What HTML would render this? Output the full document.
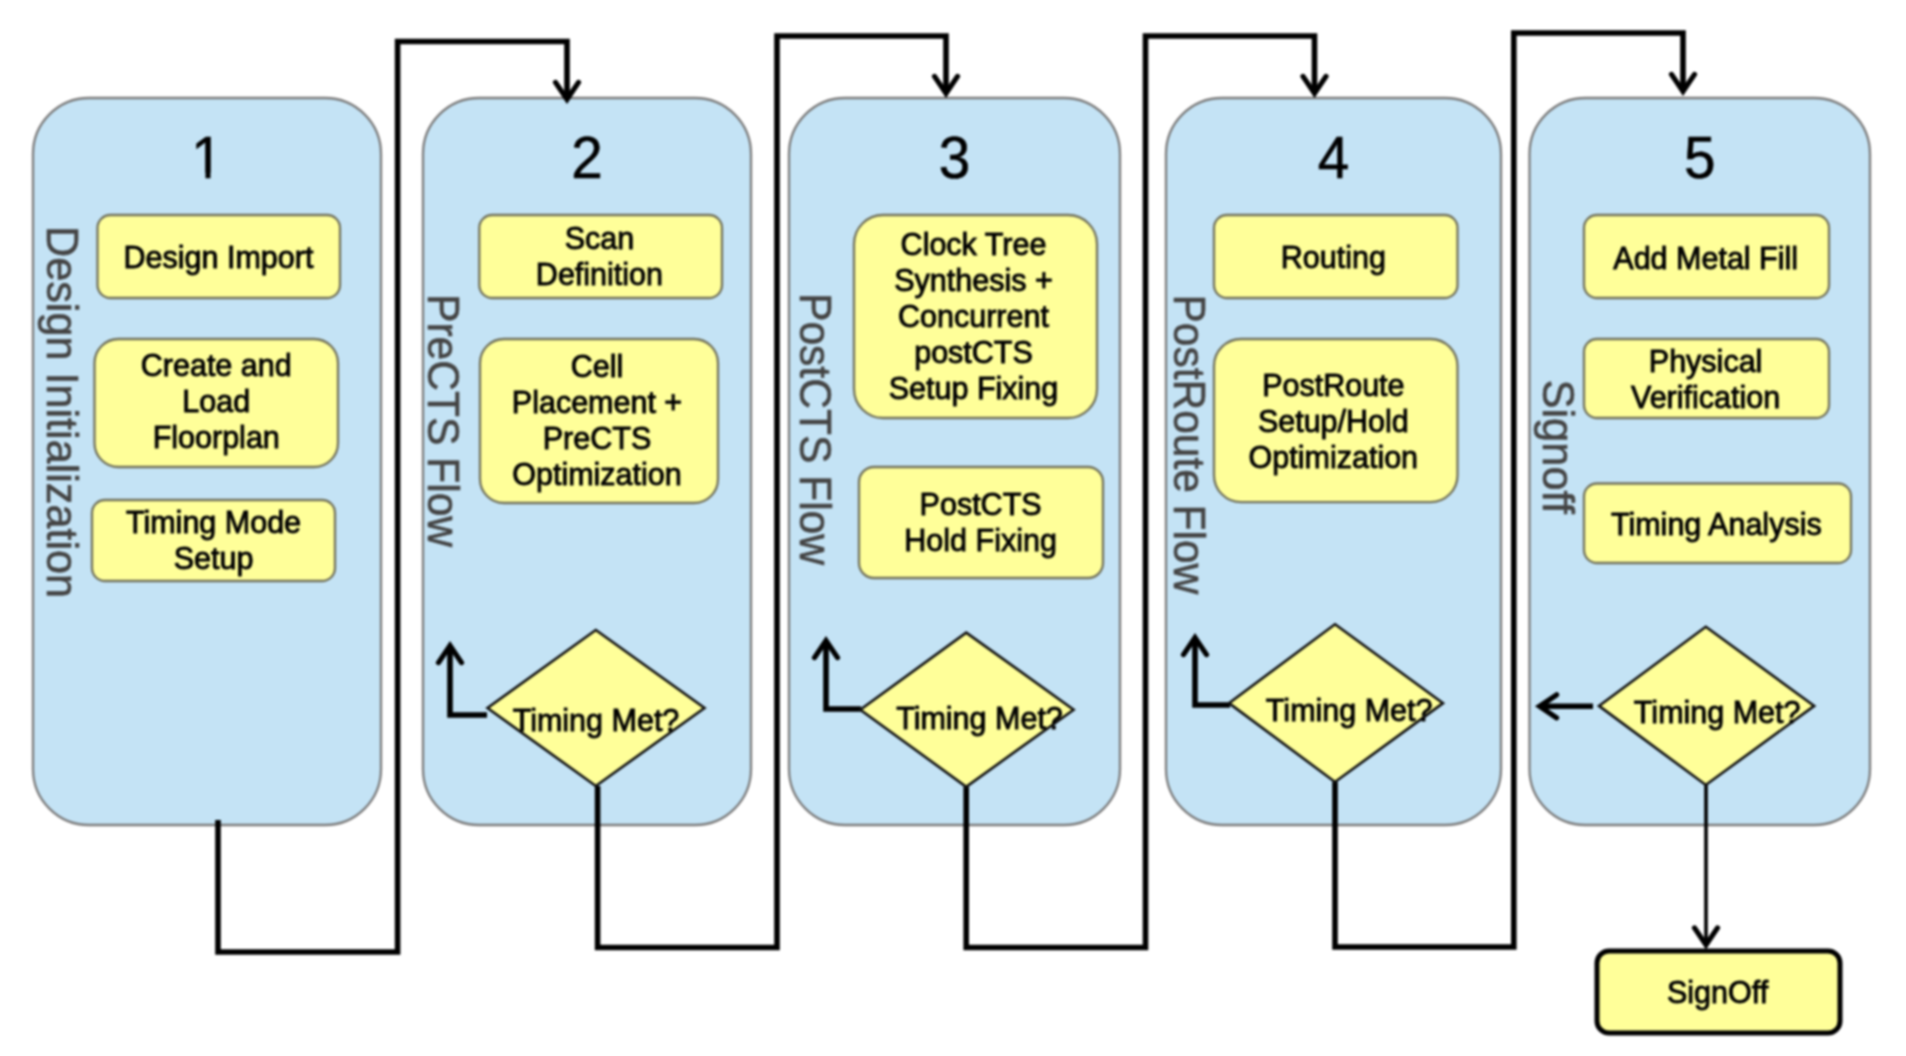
<!DOCTYPE html>
<html><head><meta charset="utf-8"><title>Flow</title>
<style>
html,body{margin:0;padding:0;background:#fff;}
body{width:1906px;height:1056px;overflow:hidden;}
svg{display:block;}
text{font-family:"Liberation Sans",sans-serif;}
.t{font-size:30.5px;fill:#000;text-anchor:middle;stroke:#000;stroke-width:0.9px;}
.n{font-size:59px;fill:#000;text-anchor:middle;stroke:#000;stroke-width:0.6px;}
.v{font-size:45px;fill:#444;stroke:#444;stroke-width:0.6px;}
.ln{fill:none;stroke:#000;stroke-width:5.6;stroke-linejoin:miter;stroke-linecap:butt;}
.ah{fill:none;stroke:#000;stroke-width:5.2;stroke-linejoin:miter;stroke-linecap:round;}
</style></head><body>
<svg width="1906" height="1056" viewBox="0 0 1906 1056">
<defs><filter id="soft" filterUnits="userSpaceOnUse" x="0" y="0" width="1906" height="1056" color-interpolation-filters="sRGB"><feGaussianBlur stdDeviation="0.8"/></filter></defs>
<g filter="url(#soft)">
<rect width="1906" height="1056" fill="#fff"/>

<rect x="33" y="98" width="348" height="727" rx="56" ry="56" fill="#c4e3f5" stroke="#7c7c7c" stroke-width="2.3"/>
<rect x="423" y="98" width="328" height="727" rx="56" ry="56" fill="#c4e3f5" stroke="#7c7c7c" stroke-width="2.3"/>
<rect x="789" y="98" width="331" height="727" rx="56" ry="56" fill="#c4e3f5" stroke="#7c7c7c" stroke-width="2.3"/>
<rect x="1166" y="98" width="335" height="727" rx="56" ry="56" fill="#c4e3f5" stroke="#7c7c7c" stroke-width="2.3"/>
<rect x="1529.5" y="98" width="340.5" height="727" rx="56" ry="56" fill="#c4e3f5" stroke="#7c7c7c" stroke-width="2.3"/>
<path class="ln" d="M218 820V952H397.6V41.5H567V95"/>
<path class="ln" d="M597.6 786V947.5H777V36H946V93"/>
<path class="ln" d="M966.2 786.8V947.5H1145.5V36H1314.5V93"/>
<path class="ln" d="M1335 782V947H1513.8V33H1683V91"/>
<path d="M1706 784V944" fill="none" stroke="#000" stroke-width="3.6"/>
<path class="ah" d="M555.5 82.4L567.0 99.4L578.5 82.4"/>
<path class="ah" d="M934.5 76.4L946.0 93.4L957.5 76.4"/>
<path class="ah" d="M1303.0 76.4L1314.5 93.4L1326.0 76.4"/>
<path class="ah" d="M1671.5 74.4L1683.0 91.4L1694.5 74.4"/>
<path class="ah" d="M1694.5 927.9L1706.0 944.9L1717.5 927.9"/>
<path class="ln" d="M487 715H450V648"/>
<path class="ah" d="M461.5 662.6L450.0 645.6L438.5 662.6"/>
<path class="ln" d="M861 709H826V642"/>
<path class="ah" d="M837.5 657.6L826.0 640.6L814.5 657.6"/>
<path class="ln" d="M1230 705H1195V640"/>
<path class="ah" d="M1206.5 654.6L1195.0 637.6L1183.5 654.6"/>
<path class="ln" d="M1593 706.3H1541"/>
<path class="ah" d="M1556.6 694.8L1539.6 706.3L1556.6 717.8"/>
<rect x="97.5" y="215" width="242.5" height="83" rx="13" ry="13" fill="#ffff99" stroke="#72725c" stroke-width="2.3"/>
<text class="t" x="218.5" y="268.0">Design Import</text>
<rect x="94.5" y="339" width="243.5" height="128" rx="24" ry="24" fill="#ffff99" stroke="#72725c" stroke-width="2.3"/>
<text class="t" x="216.25" y="375.5">Create and</text>
<text class="t" x="216.25" y="411.5">Load</text>
<text class="t" x="216.25" y="447.5">Floorplan</text>
<rect x="92" y="500" width="243" height="81" rx="13" ry="13" fill="#ffff99" stroke="#72725c" stroke-width="2.3"/>
<text class="t" x="213.5" y="532.6">Timing Mode</text>
<text class="t" x="213.5" y="568.6">Setup</text>
<rect x="479.3" y="215" width="242.7" height="83" rx="13" ry="13" fill="#ffff99" stroke="#72725c" stroke-width="2.3"/>
<text class="t" x="599.4499999999999" y="249.3">Scan</text>
<text class="t" x="599.4499999999999" y="285.3">Definition</text>
<rect x="480" y="339" width="238" height="164" rx="24" ry="24" fill="#ffff99" stroke="#72725c" stroke-width="2.3"/>
<text class="t" x="597.0" y="376.7">Cell</text>
<text class="t" x="597.0" y="412.7">Placement +</text>
<text class="t" x="597.0" y="448.7">PreCTS</text>
<text class="t" x="597.0" y="484.7">Optimization</text>
<rect x="854" y="215" width="243" height="203" rx="29" ry="29" fill="#ffff99" stroke="#72725c" stroke-width="2.3"/>
<text class="t" x="973.5" y="255.0">Clock Tree</text>
<text class="t" x="973.5" y="291.0">Synthesis +</text>
<text class="t" x="973.5" y="327.0">Concurrent</text>
<text class="t" x="973.5" y="363.0">postCTS</text>
<text class="t" x="973.5" y="399.0">Setup Fixing</text>
<rect x="859" y="467" width="244" height="111" rx="15" ry="15" fill="#ffff99" stroke="#72725c" stroke-width="2.3"/>
<text class="t" x="980.6" y="515.3">PostCTS</text>
<text class="t" x="980.6" y="551.3">Hold Fixing</text>
<rect x="1214" y="215" width="243.5" height="83" rx="13" ry="13" fill="#ffff99" stroke="#72725c" stroke-width="2.3"/>
<text class="t" x="1333.35" y="268.2">Routing</text>
<rect x="1214" y="339" width="243.5" height="163.2" rx="27" ry="27" fill="#ffff99" stroke="#72725c" stroke-width="2.3"/>
<text class="t" x="1333.35" y="396.3">PostRoute</text>
<text class="t" x="1333.35" y="432.3">Setup/Hold</text>
<text class="t" x="1333.35" y="468.3">Optimization</text>
<rect x="1584" y="215" width="245" height="83" rx="13" ry="13" fill="#ffff99" stroke="#72725c" stroke-width="2.3"/>
<text class="t" x="1705.7" y="269.2">Add Metal Fill</text>
<rect x="1584" y="339" width="245" height="79" rx="13" ry="13" fill="#ffff99" stroke="#72725c" stroke-width="2.3"/>
<text class="t" x="1705.6" y="372.0">Physical</text>
<text class="t" x="1705.6" y="408.0">Verification</text>
<rect x="1584" y="483.5" width="267" height="79.5" rx="13" ry="13" fill="#ffff99" stroke="#72725c" stroke-width="2.3"/>
<text class="t" x="1716.3" y="534.55">Timing Analysis</text>
<path d="M595.8 630L704.5 708.0L595.8 786L487.5 708.0Z" fill="#ffff99" stroke="#111" stroke-width="2.6"/>
<text class="t" x="596" y="731">Timing Met?</text>
<path d="M966.2 632.6L1073.6 709.7L966.2 786.8L860.3 709.7Z" fill="#ffff99" stroke="#111" stroke-width="2.6"/>
<text class="t" x="979.5" y="729">Timing Met?</text>
<path d="M1335 624.3L1443 703.15L1335 782L1229 703.15Z" fill="#ffff99" stroke="#111" stroke-width="2.6"/>
<text class="t" x="1349.2" y="721.2">Timing Met?</text>
<path d="M1705.8 626.8L1814.2 705.9L1705.8 785L1599 705.9Z" fill="#ffff99" stroke="#111" stroke-width="2.6"/>
<text class="t" x="1717.2" y="723">Timing Met?</text>
<rect x="1597" y="951" width="243" height="82" rx="12" ry="12" fill="#ffff99" stroke="#000" stroke-width="5"/>
<text class="t" x="1717.6" y="1003">SignOff</text>
<clipPath id="c1"><path d="M185 125H230V172.5H210.5V182H205.5V172.5H185Z"/></clipPath>
<g clip-path="url(#c1)"><text class="n" transform="translate(207.0 177.5) scale(0.96 1)">1</text></g>
<text class="n" transform="translate(587.0 177.5) scale(0.96 1)">2</text>
<text class="n" transform="translate(954.5 177.5) scale(0.96 1)">3</text>
<text class="n" transform="translate(1333.5 177.5) scale(0.96 1)">4</text>
<text class="n" transform="translate(1699.75 177.5) scale(0.96 1)">5</text>
<text class="v" transform="translate(46.5 226) rotate(90) scale(0.96 1)">Design Initialization</text>
<text class="v" transform="translate(428 294) rotate(90) scale(0.946 1)">PreCTS Flow</text>
<text class="v" transform="translate(800 293) rotate(90) scale(0.946 1)">PostCTS Flow</text>
<text class="v" transform="translate(1173.5 294.5) rotate(90) scale(0.944 1)">PostRoute Flow</text>
<text class="v" transform="translate(1543 379.5) rotate(90) scale(0.965 1)">Signoff</text>
</g></svg></body></html>
